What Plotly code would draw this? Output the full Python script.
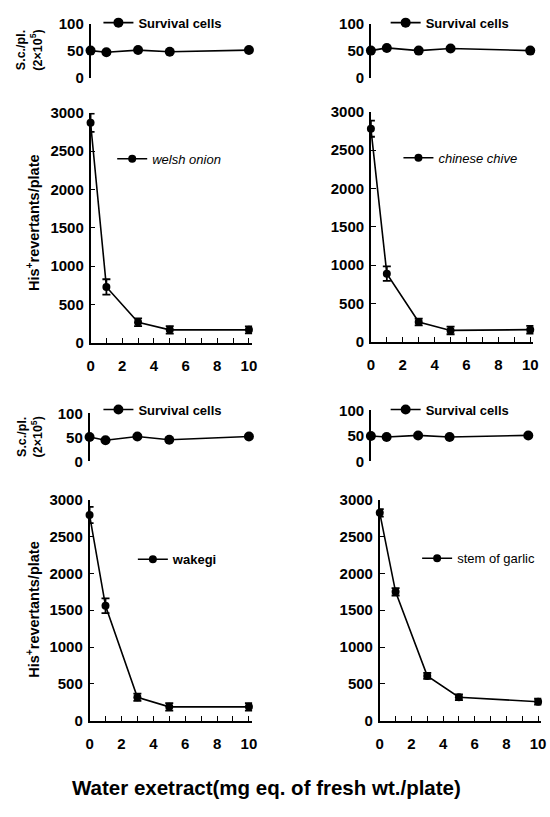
import plotly.graph_objects as go

# ---------------- data ----------------
dose = [0, 1, 3, 5, 10]

welsh_onion = [2870, 730, 270, 170, 170]
welsh_onion_err = [120, 100, 50, 50, 45]
welsh_onion_survival = [50, 47, 51, 48, 51]

chinese_chive = [2780, 890, 260, 150, 160]
chinese_chive_err = [105, 95, 45, 50, 50]
chinese_chive_survival = [50, 55, 50, 54, 50]

wakegi = [2790, 1560, 320, 190, 190]
wakegi_err = [110, 100, 50, 50, 50]
wakegi_survival = [51, 44, 52, 45, 52]

stem_of_garlic = [2820, 1750, 610, 320, 260]
stem_of_garlic_err = [50, 50, 40, 40, 40]
stem_of_garlic_survival = [50, 48, 51, 48, 51]

series_names = ["<i>welsh onion</i>", "<i>chinese chive</i>", "<b>wakegi</b>", "stem of garlic"]
survival_name = "<b>Survival cells</b>"
x_tickvals = [0, 2, 4, 6, 8, 10]
x_minor_tickvals = [1, 3, 5, 7, 9]
main_tickvals = [0, 500, 1000, 1500, 2000, 2500, 3000]
surv_tickvals = [0, 50, 100]

# ---------------- layout geometry (pixels) ----------------
W, H = 550, 817
FONT = "Liberation Sans, Arial, sans-serif"

def fx(p):
    return p / W

def fy(p):
    return 1 - p / H

XMAX = 10.2
panels = [
    dict(main=welsh_onion, err=welsh_onion_err, surv=welsh_onion_survival, name=series_names[0],
         sx=(88, 249), sy=(15, 70), mx=(88, 249), my=(106, 341),
         sleg=(96, 14), mleg=(110, 153)),
    dict(main=chinese_chive, err=chinese_chive_err, surv=chinese_chive_survival, name=series_names[1],
         sx=(373, 535), sy=(15, 70), mx=(373, 535), my=(105, 340),
         sleg=(388, 14), mleg=(401, 152)),
    dict(main=wakegi, err=wakegi_err, surv=wakegi_survival, name=series_names[2],
         sx=(87, 249), sy=(413, 462), mx=(87, 249), my=(501, 727),
         sleg=(96, 409), mleg=(131, 562)),
    dict(main=stem_of_garlic, err=stem_of_garlic_err, surv=stem_of_garlic_survival, name=series_names[3],
         sx=(373, 533), sy=(410, 462), mx=(382, 543), my=(501, 727),
         sleg=(388, 409), mleg=(420, 561)),
]

fig = go.Figure()
layout = {}
tickfont = dict(family=FONT, size=15, color="black", weight="bold")

for i, p in enumerate(panels):
    a_s = 2 * i + 1
    a_m = 2 * i + 2
    xs = "x" if a_s == 1 else f"x{a_s}"
    ys = "y" if a_s == 1 else f"y{a_s}"
    xm = f"x{a_m}"
    ym = f"y{a_m}"
    leg_s = "legend" if a_s == 1 else f"legend{a_s}"
    leg_m = f"legend{a_m}"

    fig.add_trace(go.Scatter(
        x=dose, y=p["surv"], xaxis=xs, yaxis=ys, mode="lines+markers",
        name=survival_name, legend=leg_s, cliponaxis=False, showlegend=True,
        line=dict(color="black", width=1.6),
        marker=dict(color="black", size=10),
    ))
    fig.add_trace(go.Scatter(
        x=dose, y=p["main"], xaxis=xm, yaxis=ym, mode="lines+markers",
        name=p["name"], legend=leg_m, cliponaxis=False, showlegend=True,
        line=dict(color="black", width=1.6),
        marker=dict(color="black", size=8),
        error_y=dict(type="data", array=p["err"], visible=True, color="black",
                     thickness=1.8, width=4),
    ))

    # survival axes
    x0, x10 = p["sx"]
    span = (x10 - x0) / 10.0
    layout["xaxis" if a_s == 1 else f"xaxis{a_s}"] = dict(
        domain=[fx(x0), fx(x0 + span * XMAX)], range=[0, XMAX], visible=False,
        anchor=ys)
    y100, y0 = p["sy"]
    layout["yaxis" if a_s == 1 else f"yaxis{a_s}"] = dict(
        domain=[fy(y0), fy(y100)], range=[0, 100], anchor=xs,
        showline=True, linecolor="black", linewidth=1.6, showgrid=False, zeroline=False,
        ticks="inside", ticklen=4, tickwidth=1.4, tickcolor="black",
        tickvals=surv_tickvals, tickfont=tickfont, ticklabelstandoff=2)

    # main axes
    x0, x10 = p["mx"]
    span = (x10 - x0) / 10.0
    layout[f"xaxis{a_m}"] = dict(
        domain=[fx(x0), fx(x0 + span * XMAX)], range=[0, XMAX], anchor=ym,
        showline=True, linecolor="black", linewidth=1.6, showgrid=False, zeroline=False,
        ticks="inside", ticklen=5, tickwidth=1.4, tickcolor="black",
        tickvals=x_tickvals, tickfont=tickfont, ticklabelstandoff=8,
        minor=dict(tickvals=x_minor_tickvals, ticks="inside", ticklen=5,
                   tickwidth=1.4, tickcolor="black", showgrid=False))
    y3000, y0 = p["my"]
    layout[f"yaxis{a_m}"] = dict(
        domain=[fy(y0), fy(y3000)], range=[0, 3000], anchor=xm,
        showline=True, linecolor="black", linewidth=1.6, showgrid=False, zeroline=False,
        ticks="inside", ticklen=5, tickwidth=1.4, tickcolor="black",
        tickvals=main_tickvals, tickfont=tickfont, ticklabelstandoff=2)

    # legends
    lx, ly = p["sleg"]
    layout[leg_s] = dict(x=fx(lx), y=fy(ly), xanchor="left", yanchor="middle",
                         bgcolor="rgba(0,0,0,0)", borderwidth=0, itemwidth=30, visible=True,
                         font=dict(family=FONT, size=13, color="black"))
    lx, ly = p["mleg"]
    layout[leg_m] = dict(x=fx(lx), y=fy(ly), xanchor="left", yanchor="middle",
                         bgcolor="rgba(0,0,0,0)", borderwidth=0, itemwidth=30, visible=True,
                         font=dict(family=FONT, size=13, color="black"))

annotations = []
for cy in (218, 613):
    annotations.append(dict(
        text="<b>His<sup>+</sup>revertants/plate</b>", x=fx(30), y=fy(cy),
        xref="paper", yref="paper", xanchor="center", yanchor="middle",
        textangle=-90, showarrow=False,
        font=dict(family=FONT, size=14.5, color="black")))
for cy in (42, 437):
    annotations.append(dict(
        text="<b>S.c./pl.<br>(2×10<sup>5</sup>)</b>", x=fx(26), y=fy(cy),
        xref="paper", yref="paper", xanchor="center", yanchor="middle",
        textangle=-90, showarrow=False,
        font=dict(family=FONT, size=12.5, color="black")))
annotations.append(dict(
    text="<b>Water exetract(mg eq. of fresh wt./plate)</b>", x=fx(267), y=fy(795),
    xref="paper", yref="paper", xanchor="center", yanchor="middle",
    showarrow=False, font=dict(family=FONT, size=20.5, color="black")))

fig.update_layout(
    width=W, height=H, margin=dict(l=0, r=0, t=0, b=0),
    paper_bgcolor="white", plot_bgcolor="white", showlegend=True,
    annotations=annotations, font=dict(family=FONT, color="black"),
    **layout)

fig.write_html("out.html")
